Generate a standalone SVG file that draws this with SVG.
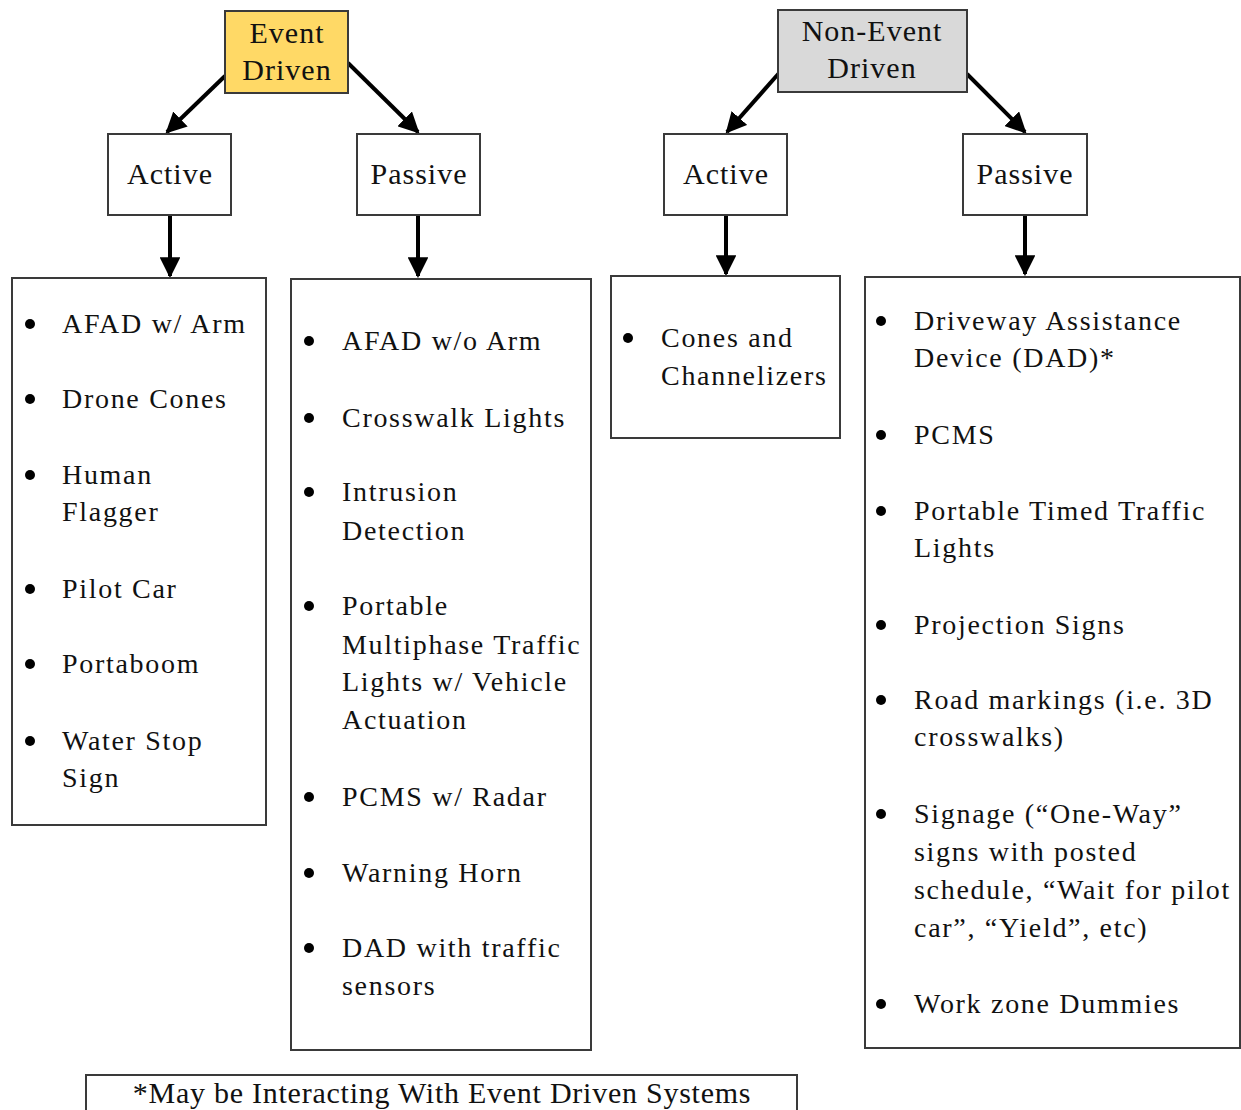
<svg xmlns="http://www.w3.org/2000/svg" width="1241" height="1110" viewBox="0 0 1241 1110">
<style>
.box{fill:#fff;stroke:#3a3a3a;stroke-width:2}
.t{font-family:"Liberation Serif","Times New Roman",serif;font-size:28px;fill:#111;letter-spacing:1.7px}
.h{font-family:"Liberation Serif","Times New Roman",serif;font-size:30px;fill:#111;text-anchor:middle;letter-spacing:1px}
.c{stroke:#000;stroke-width:4;fill:none;marker-end:url(#ah)}
.b{fill:#000}
</style>
<defs>
<marker id="ah" viewBox="0 0 10 10" refX="9" refY="5" markerWidth="5.2" markerHeight="5.2" orient="auto" markerUnits="strokeWidth">
<path d="M0,0 L10,5 L0,10 Z" fill="#000"/>
</marker>
</defs>
<rect width="1241" height="1110" fill="#fff"/>

<g id="connectors">
<line class="c" x1="225" y1="76" x2="167" y2="132"/>
<line class="c" x1="348" y1="63" x2="418" y2="132"/>
<line class="c" x1="780" y1="72" x2="727" y2="132"/>
<line class="c" x1="967" y1="74" x2="1025" y2="132"/>
<line class="c" x1="170" y1="216" x2="170" y2="276"/>
<line class="c" x1="418" y1="216" x2="418" y2="276"/>
<line class="c" x1="726" y1="216" x2="726" y2="274"/>
<line class="c" x1="1025" y1="216" x2="1025" y2="274"/>
</g>

<g id="event-driven">
<rect x="225" y="11" width="123" height="82" fill="#FFD966" stroke="#3a3a3a" stroke-width="2"/>
<text class="h" x="287" y="43">Event</text>
<text class="h" x="287" y="80">Driven</text>
</g>
<g id="non-event-driven">
<rect x="778" y="10" width="189" height="82" fill="#D9D9D9" stroke="#3a3a3a" stroke-width="2"/>
<text class="h" x="872" y="41">Non-Event</text>
<text class="h" x="872" y="78">Driven</text>
</g>

<g id="event-active">
<rect class="box" x="108" y="134" width="123" height="81"/>
<text class="h" x="170" y="184">Active</text>
</g>
<g id="event-passive">
<rect class="box" x="357" y="134" width="123" height="81"/>
<text class="h" x="419" y="184">Passive</text>
</g>
<g id="nonevent-active">
<rect class="box" x="664" y="134" width="123" height="81"/>
<text class="h" x="726" y="184">Active</text>
</g>
<g id="nonevent-passive">
<rect class="box" x="963" y="134" width="124" height="81"/>
<text class="h" x="1025" y="184">Passive</text>
</g>

<g id="event-active-list">
<rect class="box" x="12" y="278" width="254" height="547"/>
<circle class="b" cx="30" cy="324" r="5"/><text class="t" x="62" y="333">AFAD w/ Arm</text>
<circle class="b" cx="30" cy="399" r="5"/><text class="t" x="62" y="408">Drone Cones</text>
<circle class="b" cx="30" cy="475" r="5"/><text class="t" x="62" y="484">Human</text>
<text class="t" x="62" y="521">Flagger</text>
<circle class="b" cx="30" cy="589" r="5"/><text class="t" x="62" y="598">Pilot Car</text>
<circle class="b" cx="30" cy="664" r="5"/><text class="t" x="62" y="673">Portaboom</text>
<circle class="b" cx="30" cy="741" r="5"/><text class="t" x="62" y="750">Water Stop</text>
<text class="t" x="62" y="787">Sign</text>
</g>

<g id="event-passive-list">
<rect class="box" x="291" y="279" width="300" height="771"/>
<circle class="b" cx="309" cy="341" r="5"/><text class="t" x="342" y="350">AFAD w/o Arm</text>
<circle class="b" cx="309" cy="418" r="5"/><text class="t" x="342" y="427">Crosswalk Lights</text>
<circle class="b" cx="309" cy="492" r="5"/><text class="t" x="342" y="501">Intrusion</text>
<text class="t" x="342" y="540">Detection</text>
<circle class="b" cx="309" cy="606" r="5"/><text class="t" x="342" y="615">Portable</text>
<text class="t" x="342" y="654">Multiphase Traffic</text>
<text class="t" x="342" y="691">Lights w/ Vehicle</text>
<text class="t" x="342" y="729">Actuation</text>
<circle class="b" cx="309" cy="797" r="5"/><text class="t" x="342" y="806">PCMS w/ Radar</text>
<circle class="b" cx="309" cy="873" r="5"/><text class="t" x="342" y="882">Warning Horn</text>
<circle class="b" cx="309" cy="948" r="5"/><text class="t" x="342" y="957">DAD with traffic</text>
<text class="t" x="342" y="995">sensors</text>
</g>

<g id="nonevent-active-list">
<rect class="box" x="611" y="276" width="229" height="162"/>
<circle class="b" cx="628" cy="338" r="5"/><text class="t" x="661" y="347">Cones and</text>
<text class="t" x="661" y="385">Channelizers</text>
</g>

<g id="nonevent-passive-list">
<rect class="box" x="865" y="277" width="375" height="771"/>
<circle class="b" cx="881" cy="321" r="5"/><text class="t" x="914" y="330">Driveway Assistance</text>
<text class="t" x="914" y="367">Device (DAD)*</text>
<circle class="b" cx="881" cy="435" r="5"/><text class="t" x="914" y="444">PCMS</text>
<circle class="b" cx="881" cy="511" r="5"/><text class="t" x="914" y="520">Portable Timed Traffic</text>
<text class="t" x="914" y="557">Lights</text>
<circle class="b" cx="881" cy="625" r="5"/><text class="t" x="914" y="634">Projection Signs</text>
<circle class="b" cx="881" cy="700" r="5"/><text class="t" x="914" y="709">Road markings (i.e. 3D</text>
<text class="t" x="914" y="746">crosswalks)</text>
<circle class="b" cx="881" cy="814" r="5"/><text class="t" x="914" y="823">Signage (“One-Way”</text>
<text class="t" x="914" y="861">signs with posted</text>
<text class="t" x="914" y="899">schedule, “Wait for pilot</text>
<text class="t" x="914" y="937">car”, “Yield”, etc)</text>
<circle class="b" cx="881" cy="1004" r="5"/><text class="t" x="914" y="1013">Work zone Dummies</text>
</g>

<g id="footnote">
<rect class="box" x="86" y="1075" width="711" height="45"/>
<text class="h" x="442" y="1103" style="letter-spacing:0.75px">*May be Interacting With Event Driven Systems</text>
</g>
</svg>
